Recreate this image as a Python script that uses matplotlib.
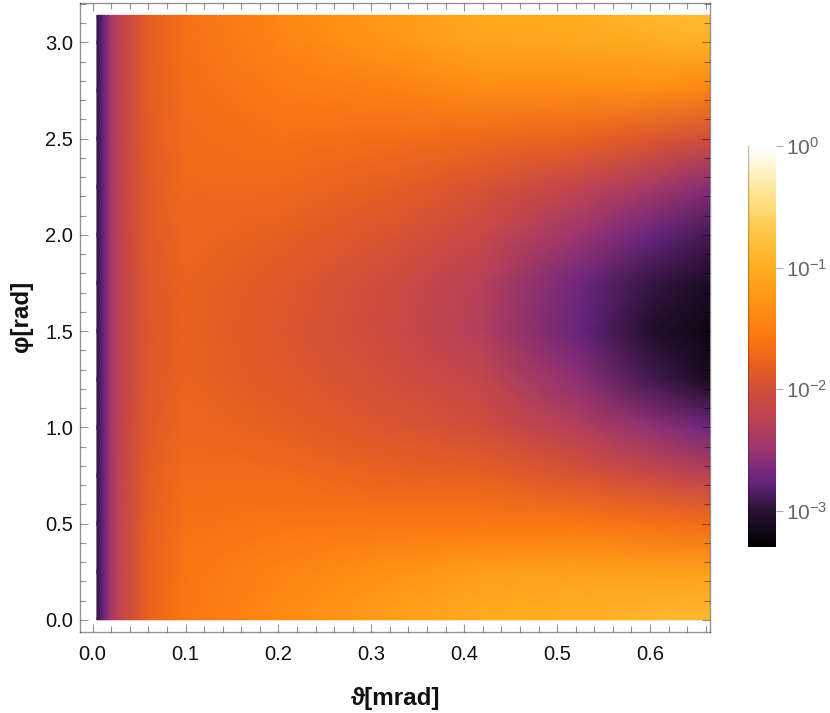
import matplotlib
matplotlib.use('Agg')
import numpy as np
from matplotlib import pyplot as plt
from matplotlib.colors import LinearSegmentedColormap, LogNorm
from matplotlib.ticker import MultipleLocator, LogLocator, NullLocator, LogFormatterMathtext

plt.rcParams['font.family'] = ['Liberation Sans', 'DejaVu Sans']
plt.rcParams['mathtext.fontset'] = 'custom'
plt.rcParams['mathtext.rm'] = 'Liberation Sans'
plt.rcParams['mathtext.default'] = 'regular'

theta = [0.0046, 0.012, 0.019, 0.03, 0.043, 0.06, 0.1, 0.2, 0.33, 0.417, 0.525, 0.6, 0.664]
phi = [0.0, 0.25, 0.5, 0.75, 1.0, 1.25, 1.5, 1.75, 2.0, 2.25, 2.5, 2.75, 3.0, 3.14]

# log10 of the intensity, one row per phi
log_i = [
    [-2.95, -2.75, -2.45, -2.20, -2.00, -1.78, -1.58, -1.38, -1.15, -1.02, -0.97, -0.90, -0.87],
    [-2.95, -2.75, -2.45, -2.20, -2.00, -1.78, -1.60, -1.45, -1.30, -1.18, -1.12, -1.15, -1.13],
    [-2.95, -2.75, -2.45, -2.20, -2.00, -1.80, -1.65, -1.60, -1.58, -1.57, -1.58, -1.65, -1.68],
    [-2.95, -2.75, -2.45, -2.21, -2.02, -1.83, -1.70, -1.70, -1.78, -1.80, -1.95, -2.10, -2.25],
    [-2.95, -2.75, -2.45, -2.22, -2.03, -1.86, -1.74, -1.80, -1.93, -2.02, -2.32, -2.55, -2.72],
    [-2.95, -2.75, -2.46, -2.23, -2.04, -1.89, -1.77, -1.87, -2.03, -2.17, -2.58, -2.90, -3.12],
    [-2.95, -2.75, -2.46, -2.23, -2.05, -1.90, -1.78, -1.90, -2.10, -2.32, -2.76, -3.05, -3.20],
    [-2.95, -2.75, -2.46, -2.23, -2.04, -1.89, -1.77, -1.87, -2.08, -2.28, -2.72, -2.95, -3.10],
    [-2.95, -2.75, -2.45, -2.22, -2.03, -1.86, -1.74, -1.80, -1.95, -2.12, -2.50, -2.75, -2.90],
    [-2.95, -2.75, -2.45, -2.22, -2.03, -1.85, -1.72, -1.72, -1.82, -1.95, -2.20, -2.40, -2.60],
    [-2.95, -2.75, -2.45, -2.22, -2.03, -1.84, -1.70, -1.65, -1.68, -1.72, -1.78, -1.90, -2.03],
    [-2.95, -2.75, -2.45, -2.22, -2.03, -1.83, -1.68, -1.55, -1.48, -1.37, -1.38, -1.35, -1.45],
    [-2.95, -2.75, -2.45, -2.22, -2.03, -1.82, -1.65, -1.45, -1.25, -1.10, -1.06, -1.00, -0.95],
    [-2.95, -2.75, -2.45, -2.22, -2.03, -1.82, -1.65, -1.42, -1.20, -1.05, -1.00, -0.90, -0.85],
]

x_ticks = [0.0, 0.1, 0.2, 0.3, 0.4, 0.5, 0.6]
y_ticks = [0.0, 0.5, 1.0, 1.5, 2.0, 2.5, 3.0]

# colour ramp: (log10 value, colour)
ramp_vals = [-3.30, -3.0, -2.75, -2.5, -2.2, -2.0, -1.8, -1.6, -1.3, -1.0, -0.7, -0.4, -0.15, 0.0]
ramp_cols = ['#000000', '#2a1236', '#6a2580', '#9c3570', '#c2454f', '#d24f3a', '#e85f20', '#fb7412',
             '#ff9214', '#ffad20', '#fec84a', '#fee48e', '#fff6d8', '#ffffff']

vmin, vmax = 10 ** ramp_vals[0], 10 ** ramp_vals[-1]
stops = [(v - ramp_vals[0]) / (ramp_vals[-1] - ramp_vals[0]) for v in ramp_vals]
cmap = LinearSegmentedColormap.from_list('bar', list(zip(stops, ramp_cols)), N=512)
norm = LogNorm(vmin=vmin, vmax=vmax)

frame = (0, 0, 0, 0.42)
text_col = '#111111'

fig = plt.figure(figsize=(8.30, 7.13), dpi=100)
ax = fig.add_axes([80 / 830, (713 - 632.3) / 713, (709.5 - 80) / 830, (632.3 - 3) / 713])
mesh = ax.pcolormesh(theta, phi, 10.0 ** np.array(log_i), cmap=cmap, norm=norm, shading='gouraud')
ax.set_xlim(-0.0136, 0.664)
ax.set_ylim(-0.065, 3.204)

ax.set_xticks(x_ticks)
ax.set_yticks(y_ticks)
ax.xaxis.set_minor_locator(MultipleLocator(0.02))
ax.yaxis.set_minor_locator(MultipleLocator(0.1))
ax.xaxis.set_major_formatter('{x:.1f}')
ax.yaxis.set_major_formatter('{x:.1f}')
ax.tick_params(which='both', direction='in', top=True, right=True, color=frame, width=0.8)
ax.tick_params(which='major', length=5.8, labelsize=14.5, labelcolor=text_col)
ax.tick_params(which='minor', length=4.0)
ax.tick_params(axis='x', which='major', pad=9)
ax.tick_params(axis='y', which='major', pad=5)
for side in ax.spines.values():
    side.set_color(frame)
    side.set_linewidth(1.0)

fig.text(395 / 830, 1 - 698 / 713, '\u03d1[mrad]', fontsize=17.5, fontweight='bold', ha='center', va='center', color=text_col)
fig.text(21 / 830, 1 - 316 / 713, '\u03c6[rad]', fontsize=17.5, fontweight='bold', rotation=90, ha='center', va='center', color=text_col)

cax = fig.add_axes([748.3 / 830, (713 - 547) / 713, 28 / 830, 401 / 713])
cbar = fig.colorbar(mesh, cax=cax)
cbar.outline.set_visible(False)
cax.axvline(0, color=(0, 0, 0, 0.25), lw=1.0)
cax.yaxis.set_major_locator(LogLocator(base=10, numticks=6))
cax.yaxis.set_major_formatter(LogFormatterMathtext())
cax.yaxis.set_minor_locator(NullLocator())
cax.tick_params(which='major', length=5, width=0.8, color='#aaaaaa', labelcolor='#666666', labelsize=15, pad=2)

plt.savefig('out.png', dpi=100)
